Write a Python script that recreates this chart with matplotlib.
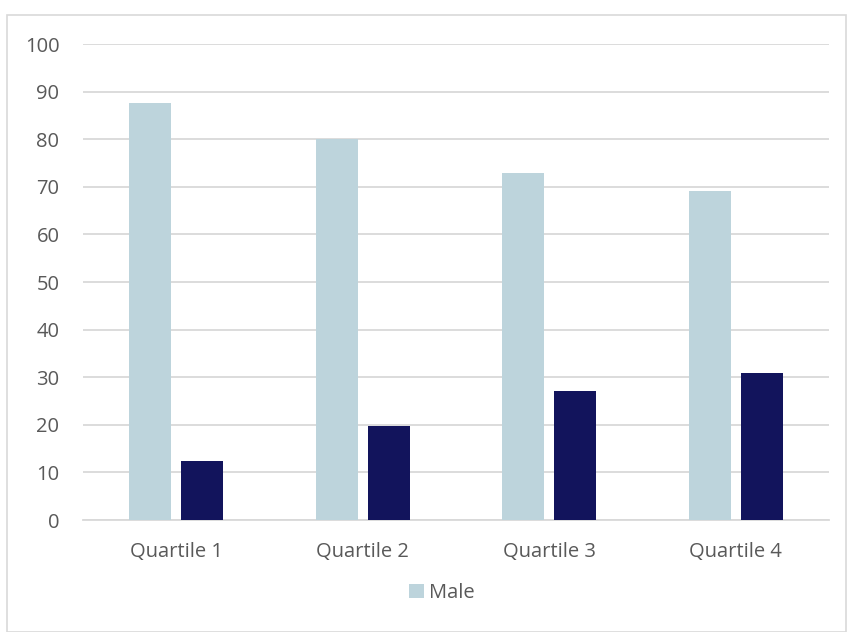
import matplotlib

matplotlib.use("Agg")
import matplotlib.pyplot as plt
import numpy as np
from matplotlib.patches import Patch, Rectangle

categories = ["Quartile 1", "Quartile 2", "Quartile 3", "Quartile 4"]
male = [87.6, 80.1, 72.8, 69.1]
female = [12.4, 19.8, 27.2, 30.9]
y_ticks = [0, 10, 20, 30, 40, 50, 60, 70, 80, 90, 100]

light = "#bdd4dc"
navy = "#12145c"
text_grey = "#595959"
grid_grey = "#d9d9d9"

plt.rcParams["font.family"] = ["Open Sans", "DejaVu Sans"]

W, H = 847, 632
fig = plt.figure(figsize=(W / 100, H / 100), dpi=100)
fig.patches.append(Rectangle((7 / W, 0), (W - 8) / W, (H - 15) / H,
                             transform=fig.transFigure, fill=False,
                             edgecolor="#d9d9d9", linewidth=1.2))

ax = fig.add_axes([83 / W, (H - 520) / H, 746 / W, 476 / H])
x = np.arange(len(categories))
width = 0.225
ax.bar(x - 0.14, male, width, color=light, label="Male", zorder=3)
ax.bar(x + 0.14, female, width, color=navy, zorder=3)

ax.set_xlim(-0.5, len(categories) - 0.5)
ax.set_ylim(0, 100)
ax.set_yticks(y_ticks)
ax.set_xticks(x)
ax.set_xticklabels(categories)
ax.grid(axis="y", color=grid_grey, linewidth=1.3, zorder=0)
for s in ["top", "right", "left"]:
    ax.spines[s].set_visible(False)
ax.spines["bottom"].set_color(grid_grey)
ax.spines["bottom"].set_linewidth(1.3)
ax.tick_params(axis="both", length=0, labelsize=14.5, colors=text_grey)
ax.tick_params(axis="y", pad=17)
ax.tick_params(axis="x", pad=16)

fig.legend(handles=[Patch(facecolor=light, label="Male")], loc="center",
           bbox_to_anchor=(442 / W, (H - 593) / H), frameon=False,
           fontsize=14.5, labelcolor=text_grey, handlelength=0.75,
           handleheight=0.75, handletextpad=0.25)

fig.savefig("out.png", dpi=100)
